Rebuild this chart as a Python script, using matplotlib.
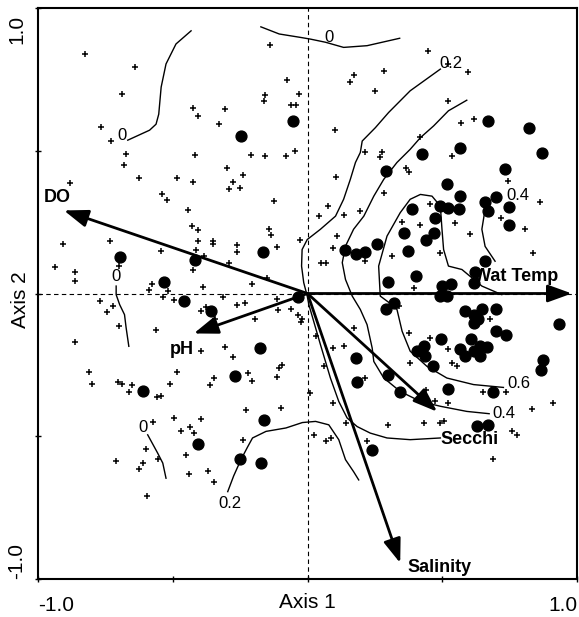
import matplotlib
matplotlib.use("Agg")
import matplotlib.pyplot as plt
from matplotlib.transforms import ScaledTranslation

plt.rcParams['font.family'] = ['Liberation Sans', 'DejaVu Sans']

# --- sample scores (axis units) ---
crosses_ul = [(-0.826, 0.839), (-0.641, 0.795), (-0.687, 0.698), (-0.767, 0.584), (-0.730, 0.535),
              (-0.424, 0.651), (-0.406, 0.621), (-0.306, 0.647), (-0.330, 0.595), (-0.141, 0.870),
              (-0.075, 0.747), (-0.157, 0.696), (-0.163, 0.675), (-0.032, 0.698), (-0.060, 0.660),
              (-0.044, 0.660), (-0.048, 0.500), (-0.674, 0.488), (-0.680, 0.449), (-0.626, 0.406),
              (-0.881, 0.386), (-0.484, 0.405), (-0.417, 0.484), (-0.424, 0.391), (-0.300, 0.438),
              (-0.210, 0.484), (-0.157, 0.482), (-0.080, 0.482), (-0.239, 0.415), (-0.277, 0.391),
              (-0.293, 0.365), (-0.251, 0.368), (-0.126, 0.324), (-0.539, 0.350), (-0.521, 0.326),
              (-0.443, 0.292), (-0.430, 0.238), (-0.407, 0.222), (-0.406, 0.185), (-0.351, 0.185),
              (-0.350, 0.175), (-0.415, 0.154), (-0.384, 0.132), (-0.543, 0.148), (-0.732, 0.184),
              (-0.906, 0.172), (-0.936, 0.094), (-0.861, 0.076), (-0.862, 0.043), (-0.701, 0.095),
              (-0.576, 0.034), (-0.424, 0.082), (-0.386, 0.023), (-0.291, 0.108), (-0.263, 0.169),
              (-0.261, 0.147), (-0.142, 0.225), (-0.135, 0.205), (-0.114, 0.164), (-0.027, 0.187),
              (-0.207, 0.033), (-0.150, 0.056), (-0.589, 0.012), (-0.519, 0.008)]
crosses_ll = [(-0.537, -0.011), (-0.771, -0.027), (-0.722, -0.045), (-0.743, -0.064), (-0.700, -0.115),
              (-0.863, -0.171), (-0.563, -0.129), (-0.496, -0.024), (-0.397, -0.060), (-0.377, -0.048),
              (-0.342, -0.088), (-0.315, -0.013), (-0.263, -0.041), (-0.231, -0.035), (-0.194, -0.091),
              (-0.109, -0.059), (-0.115, -0.021), (-0.062, -0.053), (-0.034, -0.076), (-0.025, -0.099),
              (-0.397, -0.202), (-0.306, -0.187), (-0.275, -0.224), (-0.811, -0.275), (-0.801, -0.317),
              (-0.704, -0.311), (-0.688, -0.317), (-0.651, -0.322), (-0.663, -0.346), (-0.559, -0.362),
              (-0.543, -0.360), (-0.484, -0.275), (-0.510, -0.316), (-0.346, -0.296), (-0.362, -0.319),
              (-0.222, -0.278), (-0.207, -0.308), (-0.115, -0.294), (-0.105, -0.261), (-0.095, -0.252),
              (-0.229, -0.407), (-0.099, -0.401), (-0.574, -0.450), (-0.497, -0.436), (-0.397, -0.439),
              (-0.471, -0.483), (-0.436, -0.469), (-0.422, -0.489), (-0.238, -0.514), (-0.710, -0.586),
              (-0.599, -0.544), (-0.611, -0.594), (-0.627, -0.613), (-0.556, -0.580), (-0.595, -0.709),
              (-0.452, -0.565), (-0.440, -0.632), (-0.368, -0.620), (-0.347, -0.661), (-0.020, -0.091)]
crosses_ur = [(0.447, 0.850), (0.595, 0.775), (0.284, 0.780), (0.171, 0.766), (0.157, 0.740),
              (0.249, 0.710), (0.523, 0.675), (0.569, 0.596), (0.619, 0.612), (0.101, 0.572),
              (0.419, 0.548), (0.215, 0.494), (0.277, 0.494), (0.270, 0.479), (0.536, 0.481),
              (0.367, 0.441), (0.375, 0.424), (0.105, 0.407), (0.285, 0.353), (0.077, 0.306),
              (0.042, 0.271), (0.136, 0.274), (0.196, 0.288), (0.110, 0.200), (0.095, 0.160),
              (0.049, 0.108), (0.067, 0.108), (0.215, 0.113), (0.350, 0.252), (0.417, 0.239),
              (0.456, 0.312), (0.549, 0.247), (0.604, 0.207), (0.493, 0.143), (0.315, 0.130),
              (0.397, 0.020), (0.744, 0.393), (0.719, 0.264), (0.806, 0.225), (0.863, 0.322),
              (0.837, 0.141), (0.522, 0.804)]
crosses_lr = [(0.033, -0.150), (0.094, -0.191), (0.134, -0.185), (0.171, -0.120), (0.215, -0.296),
              (0.060, -0.255), (0.011, -0.348), (0.095, -0.384), (0.144, -0.452), (0.297, -0.460),
              (0.025, -0.495), (0.069, -0.518), (0.087, -0.506), (0.221, -0.518), (0.375, -0.138),
              (0.453, -0.155), (0.523, -0.194), (0.381, -0.243), (0.536, -0.243), (0.554, -0.255),
              (0.441, -0.339), (0.474, -0.375), (0.521, -0.384), (0.431, -0.454), (0.493, -0.454),
              (0.507, -0.448), (0.678, -0.089), (0.653, -0.346), (0.736, -0.346), (0.832, -0.404),
              (0.912, -0.384), (0.758, -0.481), (0.777, -0.495), (0.338, -0.045), (0.688, -0.580)]

dots_left = [(-0.247, 0.552), (-0.052, 0.605), (-0.697, 0.127), (-0.532, 0.042), (-0.416, 0.116),
             (-0.164, 0.146), (-0.037, -0.011), (-0.457, -0.026), (-0.358, -0.060), (-0.175, -0.191),
             (-0.268, -0.288), (-0.609, -0.343), (-0.163, -0.442), (-0.405, -0.528), (-0.249, -0.580),
             (-0.171, -0.592)]
dots_ur = [(0.669, 0.605), (0.823, 0.579), (0.567, 0.511), (0.871, 0.491), (0.425, 0.488),
           (0.293, 0.429), (0.731, 0.435), (0.517, 0.382), (0.567, 0.341), (0.657, 0.322),
           (0.699, 0.339), (0.493, 0.306), (0.523, 0.298), (0.564, 0.297), (0.388, 0.295),
           (0.668, 0.289), (0.746, 0.304), (0.474, 0.266), (0.749, 0.239), (0.359, 0.213),
           (0.468, 0.213), (0.441, 0.189), (0.258, 0.172), (0.141, 0.154), (0.181, 0.139),
           (0.212, 0.145), (0.373, 0.148), (0.659, 0.113), (0.297, 0.040), (0.401, 0.063),
           (0.622, 0.075), (0.616, 0.038), (0.499, 0.028), (0.533, 0.032), (0.493, -0.009),
           (0.517, -0.009)]
dots_lr = [(0.293, -0.053), (0.320, -0.033), (0.585, -0.060), (0.647, -0.056), (0.616, -0.074),
           (0.699, -0.056), (0.634, -0.091), (0.616, -0.103), (0.933, -0.106), (0.699, -0.130),
           (0.737, -0.147), (0.497, -0.161), (0.431, -0.185), (0.406, -0.202), (0.437, -0.220),
           (0.607, -0.161), (0.567, -0.196), (0.585, -0.220), (0.641, -0.185), (0.666, -0.188),
           (0.641, -0.220), (0.616, -0.202), (0.466, -0.255), (0.875, -0.232), (0.867, -0.269),
           (0.181, -0.226), (0.184, -0.310), (0.297, -0.287), (0.344, -0.345), (0.521, -0.334),
           (0.688, -0.346), (0.629, -0.463), (0.671, -0.462), (0.240, -0.549)]

# --- environmental biplot arrows ---
env_names = ['DO', 'pH', 'Wat Temp', 'Secchi', 'Salinity']
env_tips = [(-0.904, 0.291), (-0.422, -0.140), (0.981, 0.0), (0.481, -0.414), (0.344, -0.944)]
env_label_pos = [(-0.930, 0.337), (-0.467, -0.196), (0.774, 0.060), (0.600, -0.512), (0.491, -0.961)]

# --- response surface isolines ---
iso_0_upper = [(-0.432, 0.920), (-0.488, 0.874), (-0.525, 0.804), (-0.543, 0.723), (-0.552, 0.628),
               (-0.562, 0.593), (-0.586, 0.572), (-0.667, 0.537)]
iso_0_top = [(-0.173, 0.934), (-0.105, 0.909), (-0.026, 0.897), (0.011, 0.891), (0.067, 0.880),
             (0.134, 0.862), (0.221, 0.868), (0.342, 0.894)]
iso_0_left = [(-0.710, 0.026), (-0.710, -0.004), (-0.697, -0.039), (-0.679, -0.074), (-0.673, -0.120),
              (-0.663, -0.185)]
iso_0_low = [(-0.593, -0.495), (-0.556, -0.559), (-0.537, -0.594), (-0.525, -0.647)]
iso_02_outer = [(0.493, 0.786), (0.381, 0.710), (0.301, 0.634), (0.252, 0.581), (0.203, 0.534),
                (0.196, 0.494), (0.178, 0.459), (0.159, 0.400), (0.134, 0.330), (0.104, 0.271),
                (0.048, 0.225), (-0.001, 0.189), (-0.020, 0.154), (-0.022, 0.096), (-0.014, 0.038),
                (-0.001, -0.009), (0.005, -0.039), (0.048, -0.179), (0.085, -0.296), (0.116, -0.378),
                (0.147, -0.436), (0.184, -0.466), (0.233, -0.489), (0.295, -0.506), (0.381, -0.512),
                (0.493, -0.506)]
iso_02_low = [(-0.296, -0.694), (-0.274, -0.639), (-0.247, -0.582), (-0.222, -0.537), (-0.204, -0.506),
              (-0.154, -0.483), (-0.080, -0.471), (-0.019, -0.452), (0.030, -0.448), (0.079, -0.460),
              (0.116, -0.512), (0.141, -0.582), (0.171, -0.624), (0.190, -0.653)]
iso_04_long = [(0.591, 0.677), (0.523, 0.640), (0.468, 0.587), (0.419, 0.546), (0.381, 0.505),
               (0.332, 0.459), (0.283, 0.400), (0.246, 0.341), (0.209, 0.271), (0.171, 0.225),
               (0.141, 0.166), (0.129, 0.108), (0.141, 0.049), (0.166, -0.009), (0.196, -0.056),
               (0.221, -0.109), (0.240, -0.191), (0.246, -0.238), (0.283, -0.296), (0.344, -0.343),
               (0.419, -0.378), (0.493, -0.395), (0.591, -0.413), (0.674, -0.421)]
iso_04_small = [(0.659, 0.295), (0.647, 0.225), (0.659, 0.165), (0.696, 0.113)]
iso_06 = [(0.721, -0.004), (0.647, 0.026), (0.573, 0.084), (0.523, 0.096), (0.505, 0.154),
          (0.499, 0.225), (0.493, 0.306), (0.462, 0.341), (0.419, 0.347), (0.381, 0.330),
          (0.344, 0.283), (0.295, 0.201), (0.264, 0.096), (0.270, -0.009), (0.307, -0.035),
          (0.332, -0.056), (0.351, -0.132), (0.381, -0.202), (0.443, -0.255), (0.517, -0.296),
          (0.616, -0.319), (0.727, -0.329)]
iso_lines = [iso_0_upper, iso_0_top, iso_0_left, iso_0_low, iso_02_outer, iso_02_low,
             iso_04_long, iso_04_small, iso_06]
iso_labels = [('0', -0.688, 0.555), ('0', 0.078, 0.895), ('0', -0.710, 0.061), ('0', -0.611, -0.469),
              ('0.2', 0.531, 0.804), ('0.2', -0.287, -0.737), ('0.4', 0.728, -0.419),
              ('0.4', 0.780, 0.344), ('0.6', 0.783, -0.315)]

fig = plt.figure(figsize=(5.79, 6.17), dpi=100)
ax = fig.add_axes([38 / 579, 38 / 617, 539 / 579, 571 / 617])
ax.set_xlim(-1.0, 1.0)
ax.set_ylim(-1.0, 1.0)

# dashed axes through the origin
ax.axhline(0, color='black', lw=0.8, ls=(0, (4, 3)), zorder=1)
ax.axvline(0, color='black', lw=0.8, ls=(0, (4, 3)), zorder=1)

# isolines
for line in iso_lines:
    xs, ys = zip(*line)
    ax.plot(xs, ys, color='black', lw=1.0, zorder=2)
for txt, lx, ly in iso_labels:
    ax.text(lx, ly, txt, fontsize=12, ha='center', va='center', zorder=3)

# samples
for pts in [crosses_ul, crosses_ll, crosses_ur, crosses_lr]:
    xs, ys = zip(*pts)
    ax.plot(xs, ys, ls='none', marker='+', ms=4.5, mew=1.1, color='black', zorder=3)
for pts in [dots_left, dots_ur, dots_lr]:
    xs, ys = zip(*pts)
    ax.plot(xs, ys, ls='none', marker='o', ms=7.8, mec='black', mfc='black', zorder=3)

# arrows
for name, tip, lab in zip(env_names, env_tips, env_label_pos):
    ax.annotate('', xy=tip, xytext=(0, 0),
                arrowprops=dict(arrowstyle='-|>,head_length=1.05,head_width=0.38',
                                mutation_scale=14, lw=2, color='black',
                                shrinkA=0, shrinkB=0), zorder=4)
    ax.text(lab[0], lab[1], name, fontsize=13, fontweight='bold', ha='center', va='center', zorder=5)

# frame and ticks
for s in ax.spines.values():
    s.set_linewidth(1.5)
ax.set_xticks([-1.0, -0.5, 0.0, 0.5, 1.0])
ax.set_xticklabels(['-1.0', '', '', '', '1.0'], fontsize=15)
ax.set_yticks([-1.0, -0.5, 0.0, 0.5, 1.0])
ax.set_yticklabels(['-1.0', '', '', '', '1.0'], fontsize=15, rotation=90)
ax.tick_params(direction='inout', length=5, width=1.0, pad=10)
ax.tick_params(axis='y', pad=6)
xl = ax.get_xticklabels()
xl[0].set_ha('left')
xl[-1].set_ha('right')
yl = ax.get_yticklabels()
yl[0].set_va('bottom')
yl[-1].set_va('top')
# top label sits a little below the frame corner
yl[-1].set_transform(yl[-1].get_transform() + ScaledTranslation(0, -5 / 72, fig.dpi_scale_trans))

ax.set_xlabel('Axis 1', fontsize=15)
ax.set_ylabel('Axis 2', fontsize=15)
ax.xaxis.set_label_coords(0.5, -0.025, transform=ax.transAxes)
ax.xaxis.label.set_va('top')
ax.yaxis.set_label_coords(-0.033, 0.49, transform=ax.transAxes)
ax.yaxis.label.set_va('center')

fig.savefig('out.png', dpi=100)
